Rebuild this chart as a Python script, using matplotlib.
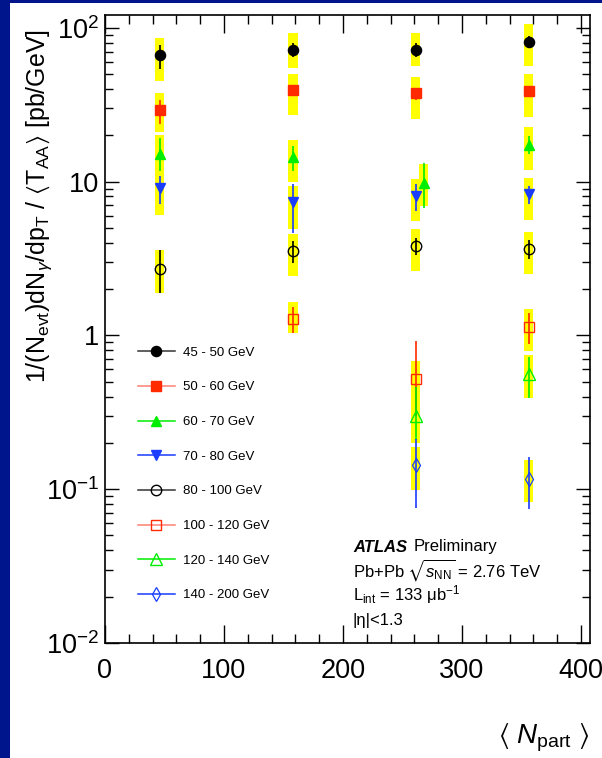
import matplotlib

matplotlib.use("Agg")

import matplotlib.pyplot as plt
from matplotlib.lines import Line2D
from matplotlib.patches import Rectangle
from matplotlib.ticker import FixedLocator, LogLocator, NullFormatter, MultipleLocator

plt.rcParams["font.family"] = ["Liberation Sans", "DejaVu Sans"]
plt.rcParams["mathtext.fontset"] = "custom"
plt.rcParams["mathtext.rm"] = "Liberation Sans"
plt.rcParams["mathtext.it"] = "Liberation Sans:italic"
plt.rcParams["mathtext.bf"] = "Liberation Sans:bold"
plt.rcParams["mathtext.fallback"] = "stix"

# pT bins: centrality points (<Npart>), yields, stat and sys bounds
LABELS = ["45 - 50 GeV", "50 - 60 GeV", "60 - 70 GeV", "70 - 80 GeV",
          "80 - 100 GeV", "100 - 120 GeV", "120 - 140 GeV", "140 - 200 GeV"]

NPART = [
    [46, 158, 261, 356],
    [46, 158, 261, 356],
    [46, 158, 268, 356],
    [46, 158, 261, 356],
    [46, 158, 261, 356],
    [158, 261, 356],
    [261, 356],
    [261, 356],
]
YIELD = [
    [66.0, 71.6, 71.6, 80.7],
    [29.0, 39.6, 37.7, 38.6],
    [15.0, 14.4, 9.8, 17.2],
    [9.1, 7.34, 8.03, 8.36],
    [2.72, 3.56, 3.80, 3.62],
    [1.28, 0.518, 1.14],
    [0.30, 0.564],
    [0.144, 0.117],
]
STAT_HI = [
    [77.6, 80.0, 80.0, 88.0],
    [34.1, 42.7, 40.6, 41.5],
    [19.2, 17.1, 13.2, 19.9],
    [10.8, 9.7, 9.6, 9.3],
    [3.57, 4.1, 4.31, 4.16],
    [1.54, 0.918, 1.40],
    [0.46, 0.727],
    [0.211, 0.161],
]
STAT_LO = [
    [54.0, 64.3, 64.3, 74.0],
    [23.8, 35.8, 34.1, 35.5],
    [11.7, 11.7, 6.7, 15.2],
    [7.1, 4.6, 6.4, 7.1],
    [1.89, 2.96, 3.31, 3.15],
    [1.04, 0.30, 0.88],
    [0.21, 0.394],
    [0.076, 0.074],
]
SYS_HI = [
    [85.6, 92.3, 92.0, 106.0],
    [37.8, 50.0, 48.0, 50.4],
    [20.0, 18.7, 13.1, 22.6],
    [11.5, 9.3, 10.4, 10.6],
    [3.57, 4.57, 4.93, 4.73],
    [1.65, 0.68, 1.49],
    [0.40, 0.74],
    [0.188, 0.154],
]
SYS_LO = [
    [45.3, 55.0, 56.0, 56.0],
    [21.0, 27.2, 25.6, 26.3],
    [11.0, 9.9, 6.9, 11.9],
    [6.1, 4.9, 5.5, 5.6],
    [1.89, 2.43, 2.61, 2.49],
    [1.04, 0.39, 0.79],
    [0.20, 0.39],
    [0.099, 0.082],
]

BLACK, RED, GREEN, BLUE = "#000000", "#ff2a00", "#00ee00", "#1a3cff"
STYLES = [
    dict(marker="o", color=BLACK, filled=True, ms=7.3, legend_line="#333333"),
    dict(marker="s", color=RED, filled=True, ms=7.0, legend_line="#ff8070"),
    dict(marker="^", color=GREEN, filled=True, ms=7.5, legend_line=GREEN),
    dict(marker="v", color=BLUE, filled=True, ms=7.5, legend_line=BLUE),
    dict(marker="o", color=BLACK, filled=False, ms=7.5, legend_line="#333333"),
    dict(marker="s", color=RED, filled=False, ms=7.3, legend_line="#ff8070"),
    dict(marker="^", color=GREEN, filled=False, ms=8.0, legend_line=GREEN),
    dict(marker="d", color=BLUE, filled=False, ms=7.3, legend_line=BLUE),
]
BAND_HALF = 3.8

W, H = 602, 758
fig = plt.figure(figsize=(W / 100, H / 100), dpi=100)
fig.patch.set_facecolor("#00148c")
fig.patches.append(Rectangle((10 / W, 0), 1, (H - 3) / H, transform=fig.transFigure,
                             facecolor="white", edgecolor="none", zorder=-1))

ax = fig.add_axes([105 / W, (H - 643) / H, 485 / W, 628 / H])

# systematic bands first, then stat bars and markers
for xs, slo, shi in zip(NPART, SYS_LO, SYS_HI):
    heights = [h - l for l, h in zip(slo, shi)]
    ax.bar(xs, heights, bottom=slo, width=2 * BAND_HALF, color="#ffff00",
           edgecolor="none", zorder=1)

handles = []
for xs, ys, lo, hi, st, lab in zip(NPART, YIELD, STAT_LO, STAT_HI, STYLES, LABELS):
    ax.vlines(xs, lo, hi, colors=st["color"], lw=1.2, zorder=3)
    face = st["color"] if st["filled"] else "none"
    mew = 1.0 if st["marker"] != "d" else 0.9
    ax.plot(xs, ys, ls="none", marker=st["marker"], ms=st["ms"], mfc=face,
            mec=st["color"], mew=mew, zorder=4)
    handles.append(Line2D([], [], color=st["legend_line"], lw=1.1,
                          marker=st["marker"], ms=st["ms"], mfc=face,
                          mec=st["color"], mew=mew, label=lab))

ax.set_yscale("log")
ax.set_xlim(0, 407.6)
ax.set_ylim(0.01, 121)

ax.xaxis.set_major_locator(MultipleLocator(100))
ax.xaxis.set_minor_locator(MultipleLocator(20))
ax.yaxis.set_major_locator(FixedLocator([0.01, 0.1, 1, 10, 100]))
ax.yaxis.set_minor_locator(LogLocator(base=10, subs=range(2, 10)))
ax.yaxis.set_minor_formatter(NullFormatter())
ax.set_yticklabels(["$10^{-2}$", "$10^{-1}$", "1", "10", "$10^{2}$"])

ax.tick_params(which="both", direction="in", top=True, right=True, colors="black",
               labelsize=19.5)
ax.tick_params(axis="x", which="major", length=13, width=1.0, pad=11)
ax.tick_params(axis="x", which="minor", length=6.5, width=1.0)
ax.tick_params(axis="y", which="major", length=10, width=1.0, pad=4)
ax.tick_params(axis="y", which="minor", length=5.5, width=1.0)
for sp in ax.spines.values():
    sp.set_linewidth(1.2)

fig.text(39 / W, 1 - 206 / H,
         r"1/(N$_{\mathrm{evt}}$)dN$_{\gamma}$/dp$_{\mathrm{T}}$ / $\langle$T$_{\mathrm{AA}}\rangle$ [pb/GeV]",
         rotation=90, ha="center", va="center", fontsize=18)
fig.text(590 / W, 1 - 738 / H, r"$\langle$ $N_{\mathrm{part}}$ $\rangle$", ha="right",
         va="center", fontsize=20)

ax.legend(handles=handles, loc="upper left", bbox_to_anchor=(0.068, 0.472),
          frameon=False, fontsize=9.5, handlelength=2.8, handletextpad=0.6,
          labelspacing=1.70, borderpad=0, borderaxespad=0)

tx = (353 - 105) / 485
fs = 12
ax.text(tx, (643 - 547) / 628, "ATLAS", transform=ax.transAxes, fontsize=fs,
        fontweight="bold", style="italic", va="center", ha="left")
ax.text((414 - 105) / 485, (643 - 547) / 628, "Preliminary", transform=ax.transAxes,
        fontsize=fs, va="center", ha="left")
ax.text(tx, (643 - 570) / 628, r"Pb+Pb $\sqrt{s_{\mathrm{NN}}}$ = 2.76 TeV",
        transform=ax.transAxes, fontsize=fs, va="center", ha="left")
ax.text(tx, (643 - 595) / 628, r"L$_{\mathrm{int}}$ = 133 μb$^{-1}$",
        transform=ax.transAxes, fontsize=fs, va="center", ha="left")
ax.text(tx, (643 - 620) / 628, "|η|<1.3", transform=ax.transAxes, fontsize=fs,
        va="center", ha="left")

fig.savefig("out.png", dpi=100, facecolor=fig.get_facecolor())
